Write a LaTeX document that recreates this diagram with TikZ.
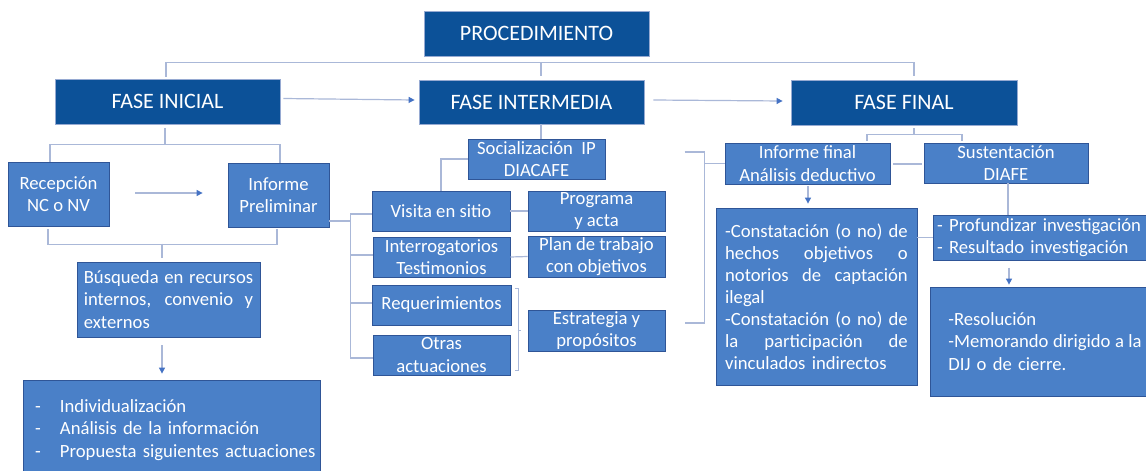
\documentclass[tikz,border=0pt]{standalone}
\usepackage{fontspec}
\setmainfont{Carlito}
\usetikzlibrary{calc,arrows.meta}
\definecolor{dkblue}{RGB}{12,81,152}
\definecolor{dkline}{RGB}{150,170,210}
\definecolor{ltblue}{RGB}{74,128,200}
\definecolor{ltline}{RGB}{47,85,151}
\definecolor{cncol}{RGB}{170,184,216}
\definecolor{arcol}{RGB}{68,114,196}
\newcommand\jline[1]{\makebox[\hsize][s]{\spaceskip=0pt\relax\xspaceskip=0pt\relax #1}}
\newcommand\bx[7]{\node[#1, minimum width={(#4-#2)*0.75pt}, minimum height={(#5-#3)*0.75pt}] (#6) at ({(#2+#4)/2},{(#3+#5)/2}) {#7};}
\tikzset{
  dkbox/.style={fill=dkblue, draw=dkline, line width=0.6pt, inner sep=0pt, text=white, align=center, font=\fontsize{16.5}{19}\selectfont},
  ltbox/.style={fill=ltblue, draw=ltline, line width=0.6pt, inner sep=0pt, text=white, align=center, font=\fontsize{14}{17}\selectfont},
  cn/.style={draw=cncol, line width=0.9pt},
  ar/.style={cn, -{Triangle[length=4.5pt, width=4.5pt, color=arcol]}},
}
\begin{document}
\begin{tikzpicture}[x=0.75pt,y=-0.75pt]
\useasboundingbox (0,0) rectangle (1146,471);
\clip (0,0) rectangle (1146,471);
\fill[white] (0,0) rectangle (1146,471);

% top level
\bx{dkbox}{424}{11}{649}{56}{proc}{PROCEDIMIENTO}
\bx{dkbox}{55}{79}{280}{124}{ini}{FASE INICIAL}
\bx{dkbox}{419}{80}{644}{124}{mid}{FASE INTERMEDIA}
\bx{dkbox}{791}{80}{1017}{125}{fin}{FASE FINAL}

% left
\bx{ltbox}{8}{162}{109}{226}{rec}{Recepción\\NC o NV}
\bx{ltbox}{228}{163}{329}{227}{ipre}{Informe\\Preliminar}
\bx{ltbox, align=left, text width=127pt}{77}{262}{260}{337}{bus}{\jline{Búsqueda en recursos}\\\jline{internos, convenio y}\\externos}
\bx{ltbox, align=left, text width=204.75pt}{23}{380}{320}{480}{ind}{\makebox[18.75pt][l]{-}Individualización\\\makebox[18.75pt][l]{-}Análisis de la información\\\makebox[18.75pt][l]{-}\mbox{Propuesta siguientes actuaciones}}

% middle
\bx{ltbox}{468}{139}{605}{179}{soc}{Socialización\ \ IP\\DIACAFE}
\bx{ltbox}{372}{191}{510}{231}{vis}{Visita en sitio}
\bx{ltbox}{373}{237}{510}{277}{intr}{Interrogatorios\\Testimonios}
\bx{ltbox}{372}{285}{511}{325}{req}{Requerimientos}
\bx{ltbox}{373}{335}{510}{375}{otr}{Otras\\actuaciones}
\bx{ltbox}{528}{191}{665}{231}{prog}{Programa\\y acta}
\bx{ltbox}{528}{236}{665}{277}{plan}{Plan de trabajo\\con objetivos}
\bx{ltbox}{528}{310}{665}{351}{est}{Estrategia y\\propósitos}

% right
\bx{ltbox}{725}{143}{890}{184}{inff}{Informe final\\Análisis deductivo}
\bx{ltbox}{924}{143}{1088}{183}{sus}{Sustentación\\DIAFE}
\bx{ltbox, align=left, text width=137pt, font=\fontsize{14}{16.5}\selectfont}{716}{208}{917}{385}{cons}{\jline{-Constatación (o no) de}\\\jline{hechos objetivos o}\\\jline{notorios de captación}\\ilegal\\\jline{-Constatación (o no) de}\\\jline{la participación de}\\vinculados indirectos}
\bx{ltbox, align=left, text width=155pt}{933}{215}{1148}{260}{prof}{- Profundizar investigación\\- Resultado investigación}
\bx{ltbox, align=left, text width=145pt}{930}{287}{1160}{396}{res}{-Resolución\\\jline{-Memorando dirigido a la}\\DIJ o de cierre.}

% top bus
\draw[cn] ($(ini.north)+(-1.5,-2)$) |- ($(fin.north)+(10,-17)$) -- ($(fin.north)+(10,-4)$);
\draw[cn] ($(mid.north)+(9.5,-17)$) -- ($(mid.north)+(9.5,-4)$);
% phase arrows
\draw[ar] ($(ini.east)+(3,-3)$) -- ($(mid.west)+(-4,-2)$);
\draw[ar] ($(mid.east)+(9,-2)$) -- ($(fin.west)+(-8,-1.5)$);

% left branch
\draw[cn] ($(ini.south)+(-2.5,4)$) -- ($(ini.south)+(-2.5,21)$);
\draw[cn] ($(rec.north)+(-8.5,0)$) |- ($(ipre.north)+(1.5,-18)$) -- ($(ipre.north)+(1.5,0)$);
\draw[ar] ($(rec.east)+(26,-1)$) -- ($(ipre.west)+(-25,-2)$);
\draw[cn] ($(rec.south)+(-10.5,3)$) |- ($(ipre.south)+(-1.5,17)$) -- ($(ipre.south)+(-1.5,2)$);
\draw[cn] ($(bus.north)+(-6.5,-18)$) -- ($(bus.north)+(-6.5,-4)$);
\draw[ar] ($(bus.south)+(-6.5,8)$) -- ($(ind.north)+(-9.5,-6)$);

% middle branch
\draw[cn] ($(mid.south)+(9.5,0)$) -- ($(soc.north)+(4.5,0)$);
\draw[cn] (soc.west) -| (vis.north);
\draw[cn] ($(ipre.east)+(0,26)$) -- ++(22,0);
\draw[cn] ($(vis.west)+(0,3)$) -- ++(-21,0) |- ($(otr.west)+(0,3)$);
\draw[cn] ($(intr.west)+(0,-2)$) -- ++(-22,0);
\draw[cn] ($(req.west)+(0,-2)$) -- ++(-21,0);
\draw[cn] (vis.east) -- (prog.west);
\draw[cn] (intr.east) -- (plan.west);
\draw[cn, line width=0.6pt] ($(req.north east)+(4,4)$) -- ++(3,0) -- ($(otr.south east)+(8,-5)$) -- ++(-3,0);
\draw[cn, line width=0.6pt] ($(est.west)+(-10,0)$) -- ++(3,0);

% middle to right bracket
\draw[cn] ($(inff.west)+(-40,-11.5)$) -| ($(est.east)+(39,-7.5)$) -- ($(est.east)+(20,-7.5)$);
\draw[cn] (inff.west) -- ++(-21,0);

% right branch
\draw[cn] ($(fin.south)+(10,3)$) -- ($(fin.south)+(10,10)$);
\draw[cn] ($(inff.north)+(59.5,-2)$) |- ($(sus.north)+(-44,-8)$) -- ($(sus.north)+(-44,-2)$);
\draw[cn] ($(inff.east)+(3,0.5)$) -- ($(sus.west)+(-2,1)$);
\draw[ar] ($(inff.south)+(0.5,2)$) -- ($(cons.north)+(-8.5,-4)$);
\draw[cn] (prof.west) -- ++(-16,0);
\draw[cn] ($(sus.south)+(2,0)$) -- ($(sus.south)+(2,32)$);
\draw[ar] ($(res.north)+(-36,-19)$) -- ($(res.north)+(-36,-2)$);
\end{tikzpicture}
\end{document}
